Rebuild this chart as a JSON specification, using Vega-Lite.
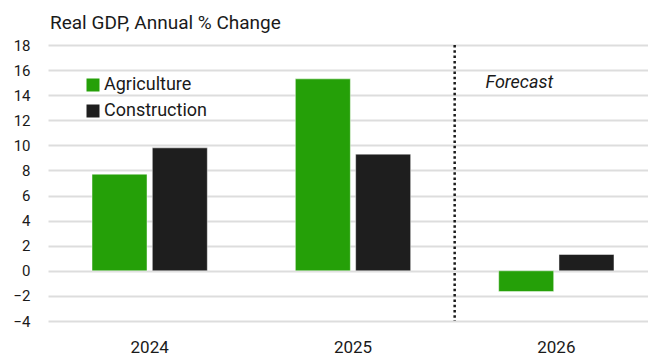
{
  "$schema": "https://vega.github.io/schema/vega-lite/v6.json",
  "width": 600,
  "height": 276,
  "autosize": "none",
  "padding": {"left": 48, "top": 45, "right": 0, "bottom": 32},
  "background": "white",
  "config": {
    "font": "Roboto",
    "view": {"stroke": null},
    "axis": {"labelFont": "Roboto", "labelColor": "#1a1a1a"},
    "axisY": {
      "values": [-4, -2, 0, 2, 4, 6, 8, 10, 12, 14, 16, 18],
      "labelOverlap": false,
      "ticks": false,
      "domain": false,
      "labelFontSize": 15,
      "labelPadding": 18,
      "gridColor": "#dddddd",
      "gridWidth": 2,
      "title": null
    }
  },
  "title": {
    "text": "Real GDP, Annual % Change",
    "anchor": "start",
    "frame": "group",
    "orient": "top",
    "offset": 5,
    "fontSize": 19,
    "fontWeight": "normal",
    "color": "#1a1a1a",
    "font": "Roboto",
    "dx": 2
  },
  "datasets": {
    "gdp": [
      {"year": "2024", "sector": "Agriculture", "value": 7.7},
      {"year": "2024", "sector": "Construction", "value": 9.8},
      {"year": "2025", "sector": "Agriculture", "value": 15.3},
      {"year": "2025", "sector": "Construction", "value": 9.3},
      {"year": "2026", "sector": "Agriculture", "value": -1.65},
      {"year": "2026", "sector": "Construction", "value": 1.3}
    ],
    "divider": [{"year": "2026"}],
    "note": [{"year": "2026", "value": 15.0, "label": "Forecast"}]
  },
  "layer": [
    {
      "data": {"name": "gdp"},
      "mark": {"type": "bar", "stroke": "#ffffff", "strokeOpacity": 0.45, "strokeWidth": 1},
      "encoding": {
        "x": {
          "field": "year",
          "type": "nominal",
          "sort": ["2024", "2025", "2026"],
          "scale": {"domain": ["2024", "2025", "2026"], "range": [0, 610], "paddingInner": 0, "paddingOuter": 0},
          "axis": {"title": null, "ticks": false, "domain": false, "labelAngle": 0, "labelFontSize": 17, "labelPadding": 18, "grid": false}
        },
        "xOffset": {
          "field": "sector",
          "type": "nominal",
          "scale": {"paddingInner": 0.088, "paddingOuter": 0.73}
        },
        "y": {
          "field": "value",
          "type": "quantitative",
          "scale": {"domain": [-4, 18], "nice": false},
          "axis": {"values": [-4, -2, 0, 2, 4, 6, 8, 10, 12, 14, 16, 18], "tickCount": 12}
        },
        "color": {
          "field": "sector",
          "type": "nominal",
          "scale": {"domain": ["Agriculture", "Construction"], "range": ["#25a008", "#1e1e1e"]},
          "legend": {
            "title": null,
            "orient": "none",
            "legendX": 36,
            "legendY": 31,
            "symbolType": "square",
            "symbolSize": 169,
            "symbolStrokeWidth": 0,
            "labelFontSize": 18,
            "labelFont": "Roboto",
            "labelColor": "#1a1a1a",
            "labelOffset": 2,
            "rowPadding": 8
          }
        }
      }
    },
    {
      "data": {"name": "divider"},
      "mark": {"type": "rule", "color": "#1a1a1a", "strokeWidth": 2.5, "strokeDash": [2.5, 2.8]},
      "encoding": {
        "x": {"field": "year", "type": "nominal", "bandPosition": 0}
      }
    },
    {
      "data": {"name": "note"},
      "mark": {"type": "text", "fontSize": 18, "fontStyle": "italic", "align": "center", "baseline": "middle", "dx": -37, "color": "#1a1a1a"},
      "encoding": {
        "x": {"field": "year", "type": "nominal"},
        "y": {"field": "value", "type": "quantitative", "axis": {"values": [-4, -2, 0, 2, 4, 6, 8, 10, 12, 14, 16, 18], "tickCount": 12}},
        "text": {"field": "label"}
      }
    }
  ]
}
